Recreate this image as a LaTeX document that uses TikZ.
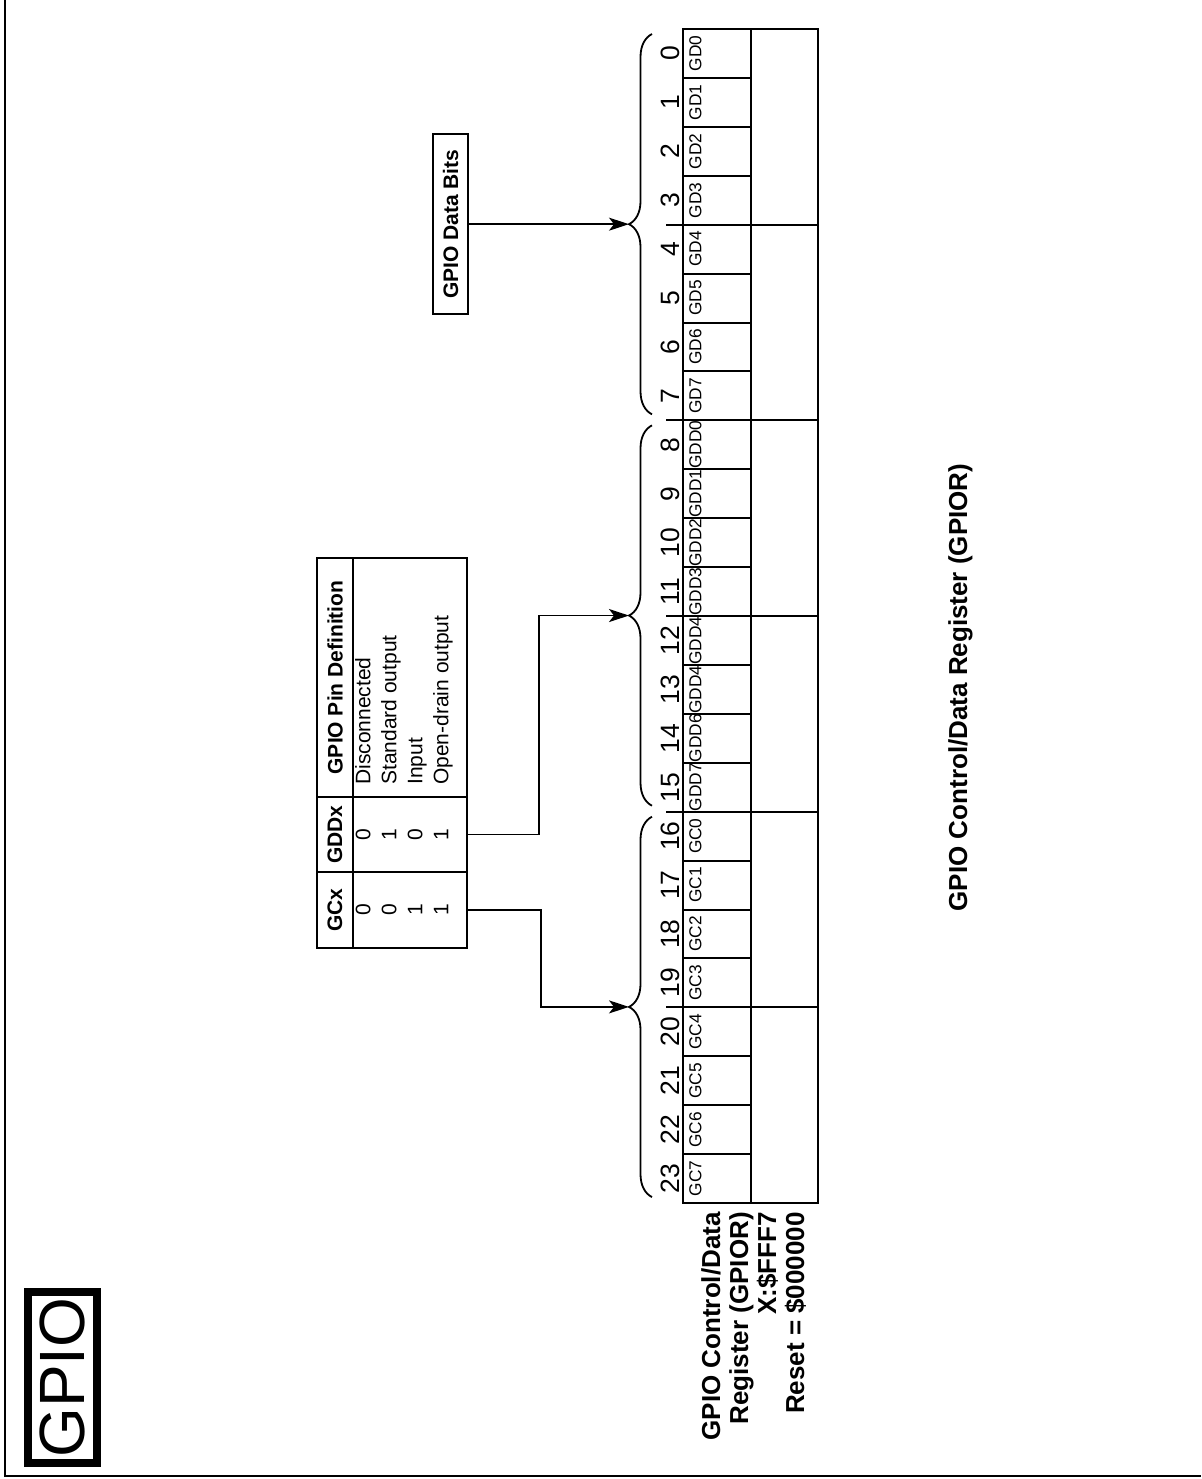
\documentclass[tikz,border=0pt]{standalone}
\usepackage{fontspec}
\setmainfont{Liberation Sans}
\usetikzlibrary{arrows.meta,decorations.pathreplacing}

\begin{document}
\begin{tikzpicture}[
    x=1pt, y=-1pt,
    >={Stealth[length=20pt, width=13pt, inset=5pt]},
    reg/.style={line width=2pt},
    bitnum/.style={rotate=90, anchor=base, inner sep=0pt,
        font=\fontsize{26.5}{30}\selectfont},
    bitname/.style={rotate=90, anchor=north, inner sep=0pt,
        font=\fontsize{17.3}{20}\selectfont},
    cell/.style={draw, line width=2pt, rotate=90, inner sep=0pt},
    hdcell/.style={cell, minimum height=36pt,
        font=\fontsize{21}{26}\selectfont\bfseries},
    bdcell/.style={cell, minimum height=114pt},
    celltext/.style={rotate=90, inner sep=0pt,
        font=\fontsize{21}{26}\selectfont},
    lbl/.style={rotate=90, inner sep=0pt,
        font=\fontsize{26}{28}\selectfont\bfseries},
    grpbrace/.style={decorate, decoration={brace, amplitude=23pt},
        line width=1.8pt},
    arr/.style={->, line width=1.8pt}
]
    \useasboundingbox (0,0) rectangle (1201,1479);

    % frame
    \draw[line width=2pt] (5,0) -- (5,1476) -- (1201,1476);

    \node[draw, line width=8pt, rotate=90, minimum width=171pt,
        minimum height=69pt, inner sep=0pt,
        font=\fontsize{64}{70}\selectfont] (gpio) at (62.5,1377.5) {GPIO};

    % register bits
    \foreach \b/\bitlbl in {0/GD0, 1/GD1, 2/GD2, 3/GD3, 4/GD4, 5/GD5, 6/GD6, 7/GD7,
        8/GDD0, 9/GDD1, 10/GDD2, 11/GDD3, 12/GDD4, 13/GDD4, 14/GDD6, 15/GDD7,
        16/GC0, 17/GC1, 18/GC2, 19/GC3, 20/GC4, 21/GC5, 22/GC6, 23/GC7} {
        \draw[reg] (683,{29+48.92*\b}) rectangle (751,{29+48.92*(\b+1)});
        \node[bitnum] (num\b) at (679,{53.46+48.92*\b}) {\b};
        \node[bitname] (name\b) at (689,{53.46+48.92*\b}) {\bitlbl};
    }
    \foreach \k in {0,...,5}
        \draw[reg] (751,{29+195.68*\k}) rectangle (818,{29+195.68*(\k+1)});
    \foreach \k in {1,...,5}
        \draw[reg] (666,{29+195.68*\k}) -- (683,{29+195.68*\k});

    % braces over the three bytes
    \foreach \g in {0,1,2} {
        \draw[grpbrace] (652,{29+391.36*\g+385.36}) -- (652,{29+391.36*\g+5});
        \coordinate (tip\g) at (629,{224.18+391.36*\g});
    }

    \node[lbl, align=right, anchor=north east] (reglbl) at (700.4,1212)
        {\strut GPIO Control/Data\\Register (GPIOR)\\X:\$FFF7\\Reset = \$000000};

    \node[lbl, anchor=base] (title) at (967,687.5)
        {GPIO Control/Data Register (GPIOR)};

    % pin definition table
    \node[hdcell, minimum width=239pt] (hdpin) at (335,677.5) {GPIO Pin Definition};
    \node[hdcell, minimum width=75pt] (hdgdd) at (335,834.5) {GDDx};
    \node[hdcell, minimum width=76pt] (hdgc) at (335,910) {GCx};
    \node[bdcell, minimum width=239pt] (bdpin) at (410,677.5) {};
    \node[bdcell, minimum width=75pt] (bdgdd) at (410,834.5) {};
    \node[bdcell, minimum width=76pt] (bdgc) at (410,910) {};

    \node[celltext, align=left, anchor=north west] (pintext) at (352,785)
        {\strut Disconnected\\Standard output\\Input\\Open-drain output};
    \node[celltext, align=center, anchor=north] (gddtext) at (352,834.5)
        {\strut 0\\1\\0\\1};
    \node[celltext, align=center, anchor=north] (gctext) at (352,910)
        {\strut 0\\0\\1\\1};

    \node[draw, line width=2pt, rotate=90, minimum width=180pt,
        minimum height=35pt, inner sep=0pt,
        font=\fontsize{21}{26}\selectfont\bfseries] (databits) at (450.5,224.18)
        {GPIO Data Bits};

    \draw[arr] (databits.south) -- (tip0);
    \draw[arr] (bdgdd.south) -- ++(71,0) |- (tip1);
    \draw[arr] (bdgc.south) -- ++(73,0) |- (tip2);
\end{tikzpicture}
\end{document}
